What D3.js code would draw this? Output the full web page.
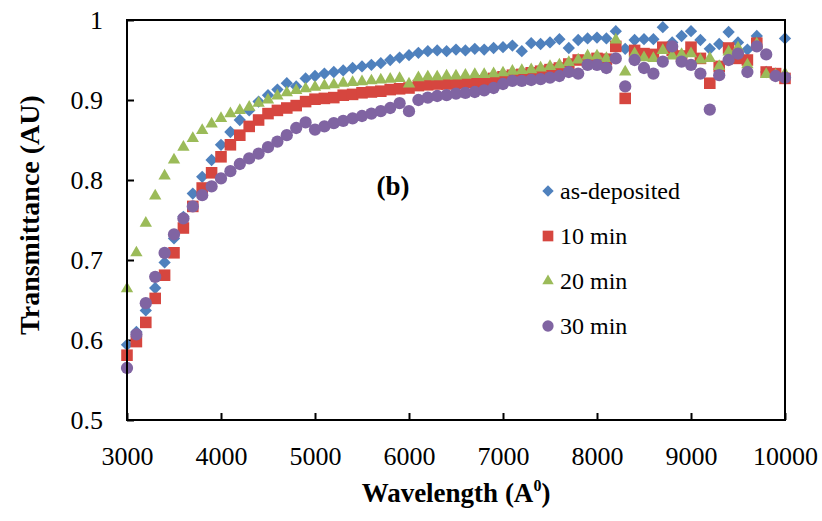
<!DOCTYPE html>
<html>
<head>
<meta charset="utf-8">
<script src="https://cdn.jsdelivr.net/npm/d3@7"></script>
<style>
  body { margin: 0; background: #fff; }
  svg { display: block; }
</style>
</head>
<body>
<div id="chart"></div>
<script>
// wavelength in Angstrom, one reading every 100
const wavelengths = d3.range(3000, 10001, 100);

const asDeposited = [
  0.594, 0.610, 0.637, 0.665, 0.697, 0.727, 0.754, 0.783, 0.804, 0.825,
  0.844, 0.860, 0.875, 0.887, 0.898, 0.906, 0.913, 0.921, 0.917, 0.927,
  0.930, 0.933, 0.935, 0.937, 0.940, 0.942, 0.944, 0.946, 0.950, 0.953,
  0.956, 0.959, 0.961, 0.962, 0.961, 0.963, 0.962, 0.964, 0.963, 0.965,
  0.966, 0.968, 0.961, 0.971, 0.970, 0.972, 0.976, 0.965, 0.975, 0.977,
  0.978, 0.977, 0.986, 0.964, 0.975, 0.976, 0.976, 0.991, 0.972, 0.980,
  0.986, 0.975, 0.964, 0.970, 0.985, 0.972, 0.963, 0.980, 0.935, 0.933,
  0.977
];

const min10 = [
  0.581, 0.598, 0.622, 0.652, 0.681, 0.709, 0.740, 0.767, 0.790, 0.809,
  0.829, 0.844, 0.856, 0.867, 0.875, 0.883, 0.887, 0.890, 0.893, 0.898,
  0.901, 0.902, 0.903, 0.906, 0.907, 0.909, 0.910, 0.911, 0.913, 0.914,
  0.915, 0.918, 0.919, 0.920, 0.920, 0.921, 0.922, 0.922, 0.924, 0.927,
  0.929, 0.931, 0.932, 0.934, 0.936, 0.938, 0.940, 0.945, 0.950, 0.948,
  0.952, 0.951, 0.967, 0.902, 0.962, 0.958, 0.957, 0.966, 0.962, 0.955,
  0.966, 0.952, 0.921, 0.942, 0.965, 0.952, 0.950, 0.971, 0.935, 0.933,
  0.927
];

const min20 = [
  0.664, 0.709, 0.746, 0.780, 0.805, 0.825, 0.841, 0.852, 0.862, 0.870,
  0.877, 0.883, 0.887, 0.891, 0.896, 0.900, 0.905, 0.909, 0.912, 0.914,
  0.916, 0.918, 0.919, 0.921, 0.922, 0.923, 0.924, 0.925, 0.926, 0.927,
  0.920, 0.928, 0.929, 0.929, 0.930, 0.930, 0.931, 0.932, 0.932, 0.933,
  0.934, 0.936, 0.937, 0.938, 0.940, 0.942, 0.944, 0.947, 0.950, 0.955,
  0.955, 0.952, 0.975, 0.935, 0.958, 0.953, 0.952, 0.962, 0.955, 0.957,
  0.958, 0.950, 0.952, 0.942, 0.960, 0.965, 0.944, 0.970, 0.932, 0.931,
  0.933
];

const min30 = [
  0.565, 0.607, 0.646, 0.679, 0.709, 0.732, 0.752, 0.767, 0.781, 0.792,
  0.802, 0.811, 0.820, 0.827, 0.833, 0.841, 0.848, 0.856, 0.865, 0.872,
  0.863, 0.867, 0.871, 0.874, 0.877, 0.880, 0.883, 0.886, 0.890, 0.896,
  0.886, 0.900, 0.903, 0.905, 0.906, 0.908, 0.909, 0.910, 0.912, 0.915,
  0.920, 0.924, 0.924, 0.925, 0.926, 0.928, 0.930, 0.935, 0.933, 0.944,
  0.944, 0.940, 0.952, 0.917, 0.950, 0.940, 0.933, 0.948, 0.967, 0.948,
  0.944, 0.933, 0.888, 0.931, 0.950, 0.958, 0.935, 0.967, 0.957, 0.930,
  0.928
];

const seriesNames = ['as-deposited', '10 min', '20 min', '30 min'];
const seriesValues = [asDeposited, min10, min20, min30];
const xTicks = [3000, 4000, 5000, 6000, 7000, 8000, 9000, 10000];
const yTicks = [0.5, 0.6, 0.7, 0.8, 0.9, 1];

const W = 822, H = 521;
const margin = { t: 20, r: 37, b: 101, l: 127 };
const innerWidth = W - margin.l - margin.r;
const innerHeight = H - margin.t - margin.b;

const colors = ['#4f81bd', '#d6463f', '#9bbb59', '#8064a2'];
const shapes = [
  { type: d3.symbolSquare, size: 76, rotate: 45 },   // diamond
  { type: d3.symbolSquare, size: 134, rotate: 0 },
  { type: d3.symbolTriangle, size: 66, rotate: 0 },
  { type: d3.symbolCircle, size: 118, rotate: 0 }
];

const serif = '"Liberation Serif", "Times New Roman", serif';

const x = d3.scaleLinear().domain([3000, 10000]).range([0, innerWidth]);
const y = d3.scaleLinear().domain([0.5, 1]).range([innerHeight, 0]);

const svg = d3.select('#chart')
  .append('svg')
  .attr('width', W)
  .attr('height', H);

svg.append('rect').attr('width', W).attr('height', H).attr('fill', '#fff');

const plot = svg.append('g')
  .attr('transform', `translate(${margin.l}, ${margin.t})`);

// axes, ticks pointing inward
const xAxis = plot.append('g')
  .attr('transform', `translate(0, ${innerHeight})`)
  .call(d3.axisBottom(x).tickValues(xTicks).tickSizeInner(-7).tickSizeOuter(0).tickPadding(27).tickFormat(d3.format('d')));

const yAxis = plot.append('g')
  .call(d3.axisLeft(y).tickValues(yTicks).tickSizeInner(-7).tickSizeOuter(0).tickPadding(24)
    .tickFormat(d => d === 1 ? '1' : d.toFixed(1)));

[xAxis, yAxis].forEach(a => {
  a.select('.domain').remove();
  a.selectAll('line').attr('stroke', '#000').attr('stroke-width', 2);
  a.selectAll('text')
    .attr('fill', '#000')
    .style('font-family', serif)
    .style('font-size', '26px');
});

// markers, first series at the back
seriesValues.forEach((vals, i) => {
  const sym = d3.symbol().type(shapes[i].type).size(shapes[i].size);
  plot.append('g')
    .selectAll('path')
    .data(vals.map((v, j) => ({ w: wavelengths[j], v })))
    .join('path')
    .attr('d', sym)
    .attr('transform', d => `translate(${x(d.w)}, ${y(d.v)}) rotate(${shapes[i].rotate})`)
    .attr('fill', colors[i]);
});

// frame
plot.append('rect')
  .attr('width', innerWidth)
  .attr('height', innerHeight)
  .attr('fill', 'none')
  .attr('stroke', '#000')
  .attr('stroke-width', 2);

// panel label
plot.append('text')
  .attr('x', x(5830))
  .attr('y', y(0.781))
  .attr('text-anchor', 'middle')
  .style('font-family', serif)
  .style('font-size', '27px')
  .style('font-weight', 'bold')
  .text('(b)');

// legend
const legend = plot.append('g')
  .attr('transform', `translate(${548 - margin.l}, ${191 - margin.t})`);

seriesNames.forEach((name, i) => {
  const row = legend.append('g').attr('transform', `translate(0, ${i * 45})`);
  const s = shapes[i];
  row.append('path')
    .attr('d', d3.symbol().type(s.type).size(s.size * 0.85)())
    .attr('transform', `rotate(${s.rotate})`)
    .attr('fill', colors[i]);
  row.append('text')
    .attr('x', 12)
    .attr('y', 8)
    .style('font-family', serif)
    .style('font-size', '24px')
    .text(name);
});

// axis titles
const xTitle = svg.append('text')
  .attr('x', margin.l + innerWidth / 2)
  .attr('y', 502)
  .attr('text-anchor', 'middle')
  .style('font-family', serif)
  .style('font-size', '27px')
  .style('font-weight', 'bold');
xTitle.append('tspan').text('Wavelength (A');
xTitle.append('tspan').attr('dy', -11).style('font-size', '16px').text('0');
xTitle.append('tspan').attr('dy', 11).text(')');

svg.append('text')
  .attr('transform', `translate(39, 215) rotate(-90)`)
  .attr('text-anchor', 'middle')
  .style('font-family', serif)
  .style('font-size', '28px')
  .style('font-weight', 'bold')
  .text('Transmittance (AU)');
</script>
</body>
</html>
